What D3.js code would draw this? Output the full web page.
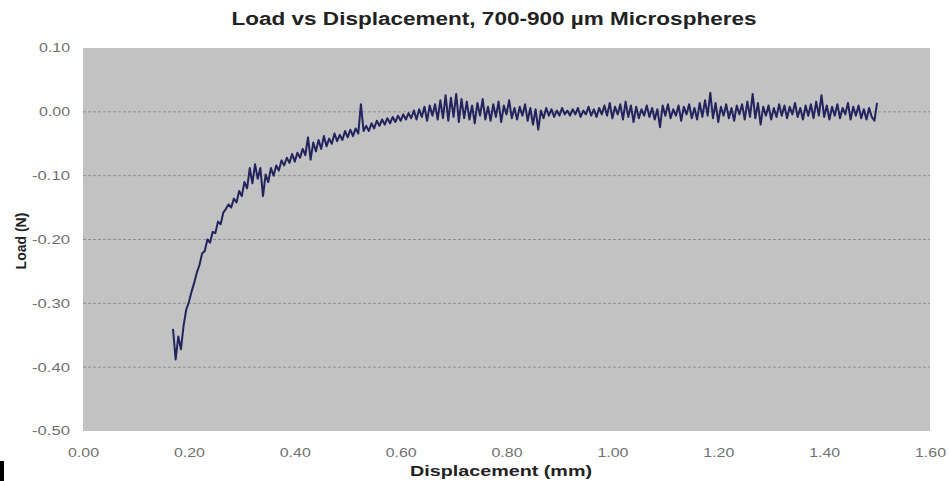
<!DOCTYPE html>
<html>
<head>
<meta charset="utf-8">
<script src="https://cdn.jsdelivr.net/npm/d3@7"></script>
<style>
  body { margin: 0; background: #fff; }
  svg { display: block; font-family: "Liberation Sans", Arial, sans-serif; }
</style>
</head>
<body>
<div id="chart"></div>
<script>
// Displacement (mm)
const displacement = [
  0.170, 0.175, 0.180, 0.185, 0.190, 0.195, 0.200, 0.205, 0.210, 0.215,
  0.220, 0.225, 0.230, 0.235, 0.240, 0.245, 0.250, 0.255, 0.260, 0.265,
  0.270, 0.275, 0.280, 0.285, 0.290, 0.295, 0.300, 0.305, 0.310, 0.315,
  0.320, 0.325, 0.330, 0.335, 0.340, 0.345, 0.350, 0.355, 0.360, 0.365,
  0.370, 0.375, 0.380, 0.385, 0.390, 0.395, 0.400, 0.405, 0.410, 0.415,
  0.420, 0.425, 0.430, 0.435, 0.440, 0.445, 0.450, 0.455, 0.460, 0.465,
  0.470, 0.475, 0.480, 0.485, 0.490, 0.495, 0.500, 0.505, 0.510, 0.515,
  0.520, 0.525, 0.530, 0.535, 0.540, 0.545, 0.550, 0.555, 0.560, 0.565,
  0.570, 0.575, 0.580, 0.585, 0.590, 0.595, 0.600, 0.605, 0.610, 0.615,
  0.620, 0.625, 0.630, 0.635, 0.640, 0.645, 0.650, 0.655, 0.660, 0.665,
  0.670, 0.675, 0.680, 0.685, 0.690, 0.695, 0.700, 0.705, 0.710, 0.715,
  0.720, 0.725, 0.730, 0.735, 0.740, 0.745, 0.750, 0.755, 0.760, 0.765,
  0.770, 0.775, 0.780, 0.785, 0.790, 0.795, 0.800, 0.805, 0.810, 0.815,
  0.820, 0.825, 0.830, 0.835, 0.840, 0.845, 0.850, 0.855, 0.860, 0.865,
  0.870, 0.875, 0.880, 0.885, 0.890, 0.895, 0.900, 0.905, 0.910, 0.915,
  0.920, 0.925, 0.930, 0.935, 0.940, 0.945, 0.950, 0.955, 0.960, 0.965,
  0.970, 0.975, 0.980, 0.985, 0.990, 0.995, 1.000, 1.005, 1.010, 1.015,
  1.020, 1.025, 1.030, 1.035, 1.040, 1.045, 1.050, 1.055, 1.060, 1.065,
  1.070, 1.075, 1.080, 1.085, 1.090, 1.095, 1.100, 1.105, 1.110, 1.115,
  1.120, 1.125, 1.130, 1.135, 1.140, 1.145, 1.150, 1.155, 1.160, 1.165,
  1.170, 1.175, 1.180, 1.185, 1.190, 1.195, 1.200, 1.205, 1.210, 1.215,
  1.220, 1.225, 1.230, 1.235, 1.240, 1.245, 1.250, 1.255, 1.260, 1.265,
  1.270, 1.275, 1.280, 1.285, 1.290, 1.295, 1.300, 1.305, 1.310, 1.315,
  1.320, 1.325, 1.330, 1.335, 1.340, 1.345, 1.350, 1.355, 1.360, 1.365,
  1.370, 1.375, 1.380, 1.385, 1.390, 1.395, 1.400, 1.405, 1.410, 1.415,
  1.420, 1.425, 1.430, 1.435, 1.440, 1.445, 1.450, 1.455, 1.460, 1.465,
  1.470, 1.475, 1.480, 1.485, 1.490, 1.495, 1.500
];

// Load (N), estimated point by point
const load = [
  -0.340, -0.388, -0.352, -0.372, -0.335, -0.310, -0.298, -0.282, -0.268, -0.252,
  -0.240, -0.222, -0.218, -0.200, -0.205, -0.188, -0.190, -0.172, -0.176, -0.158,
  -0.152, -0.145, -0.150, -0.136, -0.142, -0.124, -0.132, -0.110, -0.120, -0.088,
  -0.112, -0.082, -0.105, -0.088, -0.132, -0.098, -0.110, -0.088, -0.100, -0.084,
  -0.092, -0.076, -0.084, -0.072, -0.080, -0.066, -0.078, -0.064, -0.072, -0.058,
  -0.068, -0.040, -0.075, -0.048, -0.062, -0.044, -0.058, -0.038, -0.054, -0.042,
  -0.050, -0.034, -0.046, -0.036, -0.044, -0.030, -0.040, -0.028, -0.038, -0.026,
  -0.034,  0.012, -0.030, -0.022, -0.030, -0.018, -0.026, -0.014, -0.022, -0.012,
  -0.020, -0.010, -0.018, -0.008, -0.016, -0.006, -0.014, -0.004, -0.012, -0.002,
  -0.010,  0.002, -0.012,  0.004, -0.008,  0.008, -0.014,  0.010, -0.006,  0.012,
  -0.012,  0.018, -0.010,  0.026, -0.014,  0.022, -0.008,  0.028, -0.016,  0.020,
  -0.010,  0.016, -0.012,  0.010, -0.018,  0.014, -0.006,  0.020, -0.012,  0.008,
  -0.014,  0.012, -0.008,  0.016, -0.016,  0.010, -0.004,  0.018, -0.010,  0.006,
  -0.012,  0.008, -0.006,  0.012, -0.014,  0.006, -0.020,  0.004, -0.028,  0.002,
  -0.010,  0.006, -0.006,  0.004, -0.008,  0.002, -0.006,  0.006, -0.004,  0.002,
  -0.006,  0.004, -0.004,  0.006, -0.008,  0.002, -0.004,  0.008, -0.006,  0.004,
  -0.008,  0.006, -0.004,  0.010, -0.006,  0.014, -0.010,  0.008, -0.004,  0.012,
  -0.012,  0.016, -0.008,  0.010, -0.016,  0.008, -0.010,  0.004, -0.006,  0.010,
  -0.008,  0.006, -0.012,  0.004, -0.024,  0.010, -0.006,  0.012, -0.010,  0.004,
  -0.006,  0.010, -0.014,  0.008, -0.004,  0.012, -0.010,  0.006, -0.012,  0.014,
  -0.008,  0.018, -0.006,  0.030, -0.010,  0.014, -0.016,  0.008, -0.006,  0.012,
  -0.010,  0.006, -0.014,  0.010, -0.004,  0.012, -0.012,  0.016, -0.008,  0.028,
  -0.010,  0.014, -0.020,  0.008, -0.006,  0.010, -0.012,  0.006, -0.008,  0.012,
  -0.006,  0.010, -0.010,  0.008, -0.004,  0.014, -0.008,  0.006, -0.012,  0.010,
  -0.006,  0.012, -0.010,  0.016, -0.006,  0.026, -0.008,  0.010, -0.012,  0.008,
  -0.006,  0.012, -0.010,  0.006, -0.004,  0.014, -0.012,  0.008, -0.006,  0.010,
  -0.010,  0.004, -0.012,  0.006, -0.008, -0.014,  0.014
];

const xTicks = [0.00, 0.20, 0.40, 0.60, 0.80, 1.00, 1.20, 1.40, 1.60];
const yTicks = [0.10, 0.00, -0.10, -0.20, -0.30, -0.40, -0.50];

const chartTitle = "Load vs Displacement, 700-900 \u00b5m Microspheres";
const xTitle = "Displacement (mm)";
const yTitle = "Load (N)";

const width = 949, height = 481;
const plot = {left: 83, right: 930, top: 48, bottom: 431};

const svg = d3.select("#chart").append("svg")
    .attr("width", width)
    .attr("height", height);

const x = d3.scaleLinear().domain([0, 1.6]).range([plot.left, plot.right]);
const y = d3.scaleLinear().domain([-0.5, 0.1]).range([plot.bottom, plot.top]);

// plot area
svg.append("rect")
    .attr("x", plot.left).attr("y", plot.top)
    .attr("width", plot.right - plot.left)
    .attr("height", plot.bottom - plot.top)
    .attr("fill", "#c2c2c2");

// gridlines
svg.append("g")
    .selectAll("line")
    .data(yTicks.filter(d => d < 0.1 && d > -0.5))
    .join("line")
    .attr("x1", plot.left).attr("x2", plot.right)
    .attr("y1", d => y(d)).attr("y2", d => y(d))
    .attr("stroke", "#8e8e8e")
    .attr("stroke-width", 1)
    .attr("stroke-dasharray", "3,2");

// axes (labels only), plain hyphen for negatives like the original
const fmt = d => (Math.abs(d) < 1e-9 ? 0 : d).toFixed(2);
const xAxis = svg.append("g")
    .attr("transform", `translate(0,${plot.bottom})`)
    .call(d3.axisBottom(x).tickValues(xTicks).tickFormat(fmt).tickSize(0).tickPadding(17));
const yAxis = svg.append("g")
    .attr("transform", `translate(${plot.left},0)`)
    .call(d3.axisLeft(y).tickValues(yTicks).tickFormat(fmt).tickSize(0).tickPadding(13));

[xAxis, yAxis].forEach(g => {
    g.select(".domain").remove();
    g.selectAll("text")
        .attr("font-family", "'Liberation Sans', Arial, sans-serif")
        .attr("font-size", 12)
        .attr("fill", "#707070")
        .attr("textLength", function() { return this.textContent.length > 4 ? 38 : 31; })
        .attr("lengthAdjust", "spacingAndGlyphs");
});

// data line
const line = d3.line()
    .x((d, i) => x(displacement[i]))
    .y(d => y(d));

svg.append("path")
    .datum(load)
    .attr("fill", "none")
    .attr("stroke", "#23235e")
    .attr("stroke-width", 2)
    .attr("stroke-linejoin", "round")
    .attr("d", line);

// titles
svg.append("text")
    .attr("x", 494).attr("y", 25)
    .attr("text-anchor", "middle")
    .attr("font-size", 18).attr("font-weight", "bold")
    .attr("fill", "#222")
    .attr("textLength", 525).attr("lengthAdjust", "spacingAndGlyphs")
    .text(chartTitle);

svg.append("text")
    .attr("x", 501).attr("y", 476)
    .attr("text-anchor", "middle")
    .attr("font-size", 15).attr("font-weight", "bold")
    .attr("fill", "#222")
    .attr("textLength", 182).attr("lengthAdjust", "spacingAndGlyphs")
    .text(xTitle);

svg.append("text")
    .attr("transform", "translate(26,241) rotate(-90)")
    .attr("text-anchor", "middle")
    .attr("font-size", 14).attr("font-weight", "bold")
    .attr("fill", "#222")
    .text(yTitle);

// small dark mark in the lower-left corner of the picture
svg.append("rect")
    .attr("x", 0).attr("y", 461)
    .attr("width", 4).attr("height", 20)
    .attr("fill", "#000");
</script>
</body>
</html>
